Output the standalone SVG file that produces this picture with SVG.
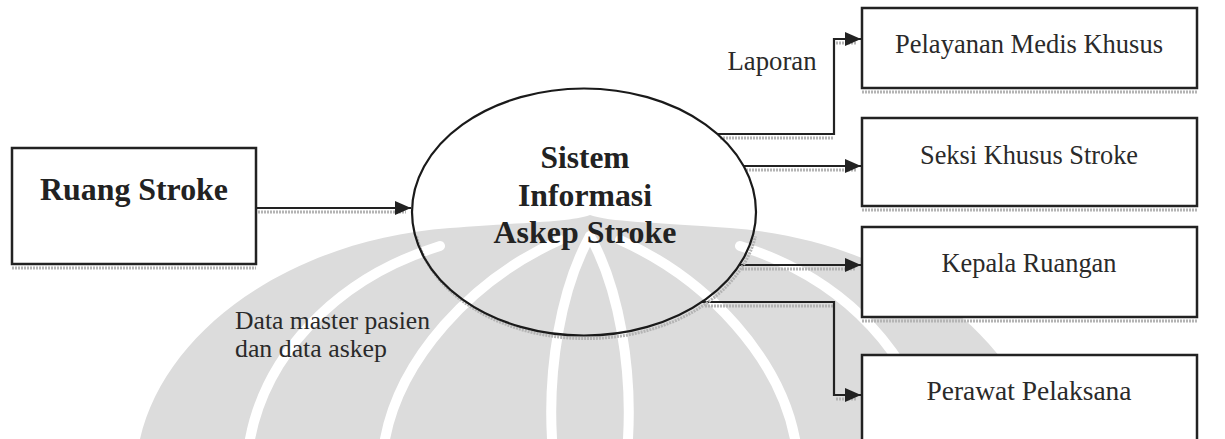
<svg xmlns="http://www.w3.org/2000/svg" width="1225" height="439" viewBox="0 0 1225 439">
  <style>
    .box { fill: #ffffff; stroke: #222222; stroke-width: 2.5; }
    .bubble { fill: none; stroke: #1a1a1a; stroke-width: 2.2; }
    .flow { fill: none; stroke: #222222; stroke-width: 2.2; }
    .shade { fill: none; stroke: #b4b4b4; stroke-width: 3; stroke-dasharray: 2 1; }
    .mark { fill: #dcdcdc; }
    .mark-cut { fill: none; stroke: #ffffff; stroke-width: 10; stroke-linecap: round; }
    .title { font-family: "Liberation Serif", "Times New Roman", serif; font-weight: bold; font-size: 31px; fill: #222222; text-anchor: middle; }
    .label { font-family: "Liberation Serif", "Times New Roman", serif; font-size: 27px; fill: #2a2a2a; text-anchor: middle; }
    .note { font-family: "Liberation Serif", "Times New Roman", serif; font-size: 26px; fill: #2a2a2a; }
  </style>
  <defs>
    <marker id="arrow" markerWidth="16" markerHeight="14" refX="16" refY="7" orient="auto" markerUnits="userSpaceOnUse">
      <path d="M0,0 L16,7 L0,14 Z" fill="#222222"/>
    </marker>
  </defs>

  <rect x="0" y="0" width="1225" height="439" fill="#ffffff"/>

  <!-- faint background emblem -->
  <g id="emblem">
    <path class="mark" d="M140,439 C165,330 290,240 450,228 C530,222 570,222 590,215 C610,222 650,222 730,228 C890,240 1015,330 1040,439 Z"/>
    <!-- central leaf -->
    <path class="mark-cut" d="M590,236 C560,290 548,370 552,439"/>
    <path class="mark-cut" d="M590,236 C620,290 632,370 628,439"/>
    <!-- inner leaves -->
    <path class="mark-cut" d="M560,240 C470,280 400,360 385,439"/>
    <path class="mark-cut" d="M620,240 C710,280 780,360 795,439"/>
    <!-- outer leaves -->
    <path class="mark-cut" d="M440,246 C330,280 265,360 250,439"/>
    <path class="mark-cut" d="M740,246 C850,280 915,360 930,439"/>
  </g>

  <!-- connectors -->
  <g id="connectors">
    <path class="shade" d="M258,212 H406"/>
    <path class="flow" d="M256,208 H411" marker-end="url(#arrow)"/>

    <path class="shade" d="M720,138 H834"/>
    <path class="shade" d="M836,43 H856"/>
    <path class="flow" d="M718,134 H834 V39 H861" marker-end="url(#arrow)"/>

    <path class="shade" d="M746,170 H856"/>
    <path class="flow" d="M744,166 H861" marker-end="url(#arrow)"/>

    <path class="shade" d="M742,269 H856"/>
    <path class="flow" d="M740,265 H861" marker-end="url(#arrow)"/>

    <path class="shade" d="M705,306 H834"/>
    <path class="shade" d="M836,399 H856"/>
    <path class="flow" d="M702,302 H834 V395 H861" marker-end="url(#arrow)"/>

    <text class="label" x="772" y="70" textLength="89" lengthAdjust="spacingAndGlyphs">Laporan</text>
    <text class="note" x="235" y="329" textLength="195" lengthAdjust="spacingAndGlyphs">Data master pasien</text>
    <text class="note" x="235" y="357" textLength="152" lengthAdjust="spacingAndGlyphs">dan data askep</text>
  </g>

  <!-- external entity: source -->
  <g id="ruang-stroke">
    <path class="shade" d="M12,268 H256"/>
    <rect class="box" x="12" y="148" width="244" height="116"/>
    <text class="title" x="134" y="200" textLength="188" lengthAdjust="spacingAndGlyphs">Ruang Stroke</text>
  </g>

  <!-- central process -->
  <g id="sistem-informasi">
    <path class="shade" d="M416.6,236.5 A172,123.5 0 0 0 755.4,236.5"/>
    <ellipse class="bubble" cx="584" cy="212" rx="172" ry="123.5"/>
    <text class="title" x="585" y="168" textLength="89" lengthAdjust="spacingAndGlyphs">Sistem</text>
    <text class="title" x="585" y="206" textLength="134" lengthAdjust="spacingAndGlyphs">Informasi</text>
    <text class="title" x="585" y="243" textLength="183" lengthAdjust="spacingAndGlyphs">Askep Stroke</text>
  </g>

  <!-- external entities: receivers -->
  <g id="pelayanan-medis">
    <path class="shade" d="M862,92 H1197"/>
    <rect class="box" x="862" y="8" width="335" height="80"/>
    <text class="label" x="1029" y="53" textLength="268" lengthAdjust="spacingAndGlyphs">Pelayanan Medis Khusus</text>
  </g>

  <g id="seksi-khusus">
    <path class="shade" d="M862,210 H1197"/>
    <rect class="box" x="862" y="118" width="335" height="88"/>
    <text class="label" x="1029" y="164" textLength="218" lengthAdjust="spacingAndGlyphs">Seksi Khusus Stroke</text>
  </g>

  <g id="kepala-ruangan">
    <path class="shade" d="M862,321 H1197"/>
    <rect class="box" x="862" y="227" width="335" height="90"/>
    <text class="label" x="1029" y="272" textLength="175" lengthAdjust="spacingAndGlyphs">Kepala Ruangan</text>
  </g>

  <g id="perawat-pelaksana">
    <rect class="box" x="862" y="355" width="335" height="100"/>
    <text class="label" x="1029" y="400" textLength="205" lengthAdjust="spacingAndGlyphs">Perawat Pelaksana</text>
  </g>
</svg>
